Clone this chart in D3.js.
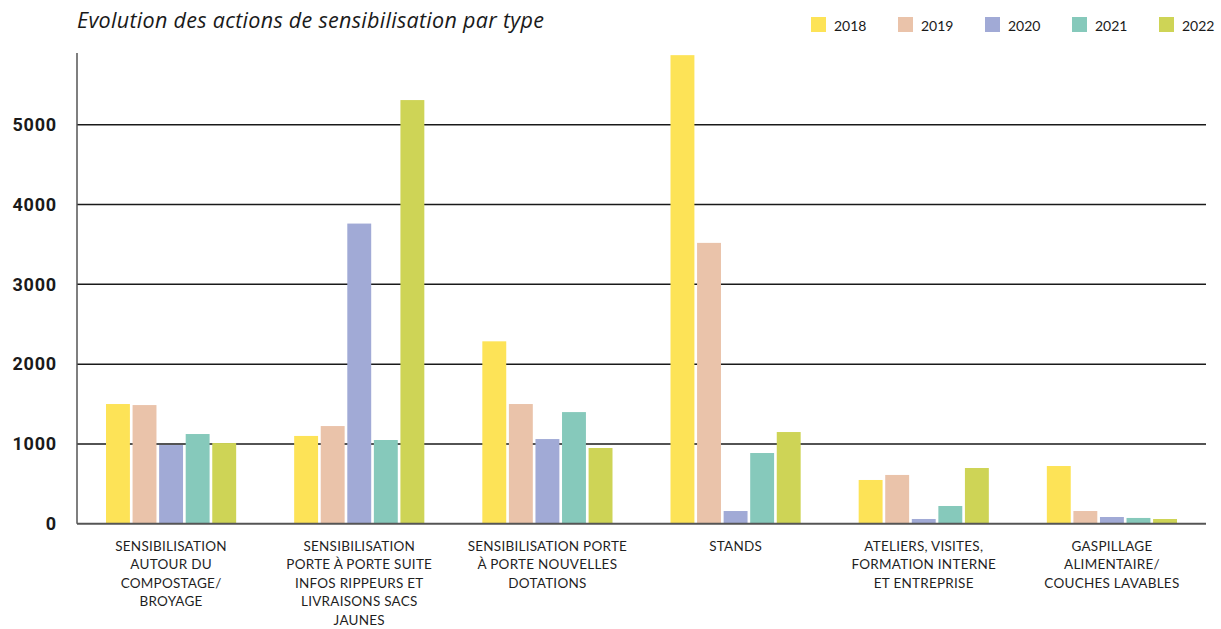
<!DOCTYPE html>
<html><head><meta charset="utf-8">
<script src="https://cdn.jsdelivr.net/npm/d3@7"></script>
<style>
body{margin:0;background:#fff;}
svg{display:block;}
</style></head>
<body>
<svg id="chart" width="1221" height="629"></svg>
<script>
const title = "Evolution des actions de sensibilisation par type";
const years = ["2018","2019","2020","2021","2022"];
const colors = ["#FDE357","#EAC3AA","#A1AAD6","#86C9BB","#CED456"];
const categories = [
  ["SENSIBILISATION","AUTOUR DU","COMPOSTAGE/","BROYAGE"],
  ["SENSIBILISATION","PORTE À PORTE SUITE","INFOS RIPPEURS ET","LIVRAISONS SACS","JAUNES"],
  ["SENSIBILISATION PORTE","À PORTE NOUVELLES","DOTATIONS"],
  ["STANDS"],
  ["ATELIERS, VISITES,","FORMATION INTERNE","ET ENTREPRISE"],
  ["GASPILLAGE","ALIMENTAIRE/","COUCHES LAVABLES"]
];
const v2018 = [1500, 1100, 2286, 5873, 548, 723];
const v2019 = [1487, 1224, 1500, 3520, 611, 159];
const v2020 = [986, 3762, 1061, 159, 59, 84];
const v2021 = [1124, 1049, 1399, 886, 222, 72];
const v2022 = [1011, 5310, 949, 1149, 698, 59];
const seriesValues = [v2018, v2019, v2020, v2021, v2022];
const yTicks = [0, 1000, 2000, 3000, 4000, 5000];
const yMax = 5900;

const svg = d3.select("#chart");
const mLeft = 77, mRight = 1206, mTop = 53, mBottom = 523.7;

const x0 = d3.scaleBand().domain(d3.range(categories.length)).range([mLeft, mRight]).paddingInner(0).paddingOuter(0);
const x1 = d3.scaleBand().domain(years).range([29, x0.bandwidth() - 29]).paddingInner(0.1).paddingOuter(0);
const y = d3.scaleLinear().domain([0, yMax]).range([mBottom, mTop]);

// gridlines
svg.append("g").selectAll("line").data(yTicks.filter(d => d > 0)).join("line")
  .attr("x1", mLeft).attr("x2", mRight)
  .attr("y1", d => y(d)).attr("y2", d => y(d))
  .attr("stroke", "#1a1a1a").attr("stroke-width", 1.5);

// bars
const groups = svg.append("g").selectAll("g").data(categories).join("g")
  .attr("transform", (d, i) => `translate(${x0(i)},0)`);
groups.selectAll("rect").data((d, i) => years.map((yr, j) => ({yr, j, v: seriesValues[j][i]}))).join("rect")
  .attr("x", d => x1(d.yr)).attr("width", x1.bandwidth())
  .attr("y", d => y(d.v)).attr("height", d => y(0) - y(d.v))
  .attr("fill", d => colors[d.j]);

// baseline and y axis line
svg.append("line").attr("x1", mLeft).attr("x2", mRight).attr("y1", y(0)).attr("y2", y(0))
  .attr("stroke", "#555").attr("stroke-width", 2);
svg.append("line").attr("x1", mLeft).attr("x2", mLeft).attr("y1", mTop).attr("y2", y(0))
  .attr("stroke", "#555").attr("stroke-width", 1.5);

// y tick labels
const yAxis = d3.axisLeft(y).tickValues(yTicks).tickSize(0).tickPadding(20).tickFormat(d3.format("d"));
const ya = svg.append("g").attr("transform", `translate(${mLeft},0)`).call(yAxis);
ya.select(".domain").remove();
ya.selectAll("text").attr("font-family", "Roboto, sans-serif").attr("font-weight", "700")
  .attr("font-size", "18px").attr("letter-spacing", "0.8px").attr("fill", "#1a1a1a");

// category labels
const lab = svg.append("g").selectAll("text").data(categories).join("text")
  .attr("text-anchor", "middle")
  .attr("font-family", "Lato, sans-serif").attr("font-size", "13.5px").attr("letter-spacing", "0.25px").attr("fill", "#1f1f1f")
  .attr("transform", (d, i) => `translate(${x0(i) + x0.bandwidth()/2},550.5)`);
lab.selectAll("tspan").data(d => d).join("tspan")
  .attr("x", 0).attr("dy", (d, k) => k === 0 ? 0 : 18.6).text(d => d);

// title
svg.append("text").attr("x", 77).attr("y", 28).text(title)
  .attr("font-family", "'Open Sans', sans-serif").attr("font-style", "italic")
  .attr("font-size", "21.5px").attr("letter-spacing", "0.3px").attr("fill", "#1a1a1a");

// legend
const lg = svg.append("g").selectAll("g").data(years).join("g")
  .attr("transform", (d, i) => `translate(${811 + i * 87},17)`);
lg.append("rect").attr("width", 15).attr("height", 15).attr("fill", (d, i) => colors[i]);
lg.append("text").attr("x", 23).attr("y", 13.5).text(d => d)
  .attr("font-family", "Lato, sans-serif").attr("font-size", "14px").attr("fill", "#1a1a1a");
</script>
</body></html>
